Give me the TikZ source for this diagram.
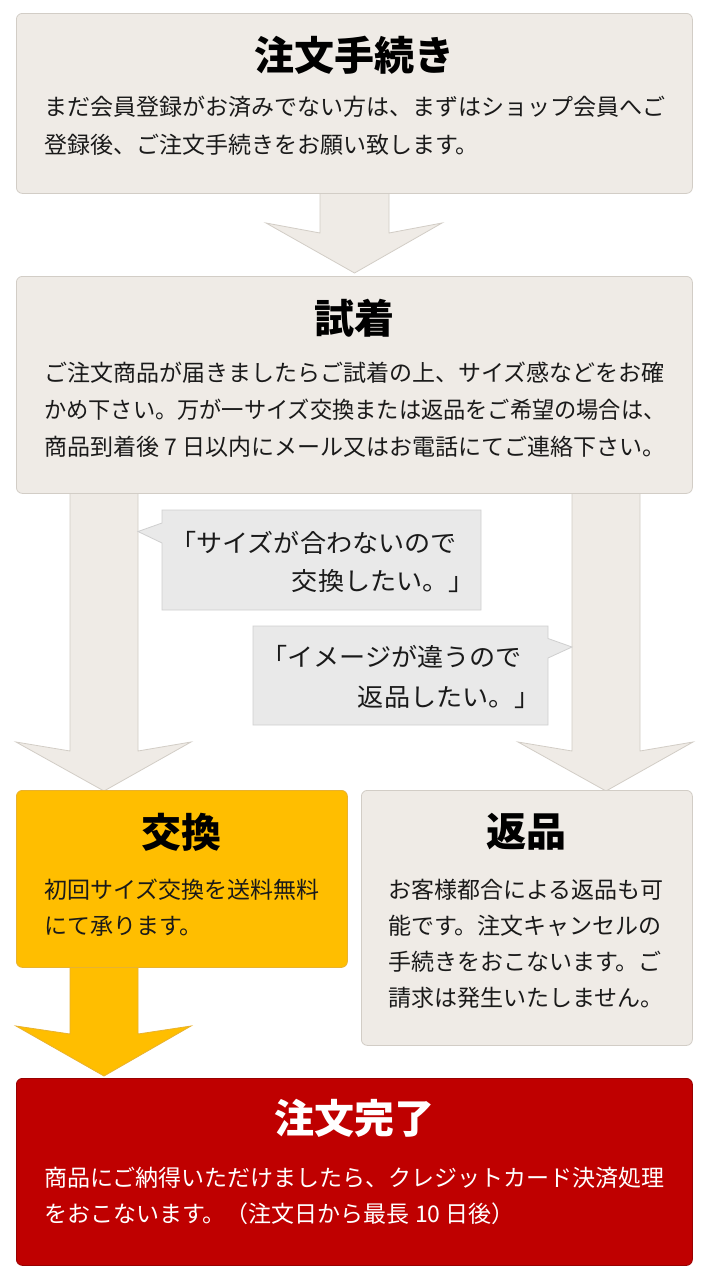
\documentclass[tikz,border=0pt]{standalone}
\usepackage{fontspec}
\setmainfont{Noto Sans CJK JP}
\definecolor{boxfill}{HTML}{EFEBE6}
\definecolor{boxline}{HTML}{D2CDC6}
\definecolor{bubfill}{HTML}{E9E9E9}
\definecolor{bubline}{HTML}{CFCFCF}
\definecolor{yel}{HTML}{FFBE00}
\definecolor{yelline}{HTML}{E8B230}
\definecolor{redc}{HTML}{BF0000}
\definecolor{textc}{HTML}{1A1A1A}
\begin{document}
\begin{tikzpicture}[x=1pt,y=-1pt,
  box/.style={draw=boxline, fill=boxfill, rounded corners=6pt, line width=0.8pt, inner sep=0pt, anchor=north west},
  arr/.style={draw=boxline, fill=boxfill, line width=0.8pt},
  bub/.style={draw=bubline, fill=bubfill, line width=0.8pt},
  ttl/.style={font=\fontsize{40}{44}\selectfont\bfseries, text=black, inner sep=0pt},
  body/.style={font=\fontsize{23}{28}\selectfont, text=textc, inner sep=0pt, anchor=west},
  btxt/.style={font=\fontsize{25}{28}\selectfont, text=textc, inner sep=0pt}]
\fill[white] (0,0) rectangle (710,1280);
\useasboundingbox (0,0) rectangle (710,1280);
% block arrows
\draw[arr] (320,190) -- (320,233) -- (266,223) -- (354.5,273) -- (442,223) -- (389,233) -- (389,190) -- cycle;
\draw[arr] (70,490) -- (70,751) -- (16,742) -- (104,791) -- (191,742) -- (138,751) -- (138,490) -- cycle;
\draw[arr] (572,490) -- (572,751) -- (518,742) -- (606,791) -- (693,742) -- (640,751) -- (640,490) -- cycle;
\draw[draw=yelline, fill=yel, line width=0.8pt] (70,964) -- (70,1034) -- (16,1026) -- (104,1076) -- (191,1026) -- (138,1034) -- (138,964) -- cycle;
% boxes
\node[box, minimum width=676pt, minimum height=180pt] (b1) at (16,13) {};
\node[box, minimum width=676pt, minimum height=217pt] (b2) at (16,276) {};
\node[box, draw=yelline, fill=yel, minimum width=331pt, minimum height=177pt] (b3) at (16,790) {};
\node[box, minimum width=331pt, minimum height=255pt] (b4) at (361,790) {};
\node[box, draw=redc!80!black, fill=redc, minimum width=676pt, minimum height=187pt] (b5) at (16,1078) {};
% bubbles
\draw[bub] (162,510) -- (481,510) -- (481,610) -- (162,610) -- (162,543) -- (138,531.5) -- (162,523) -- cycle;
\draw[bub] (253,626) -- (548,626) -- (548,638.5) -- (572,647) -- (548,658) -- (548,725) -- (253,725) -- cycle;
\node[btxt, anchor=west] (q1a) at (170,543) {\scalebox{1.045}[1]{「サイズが合わないので}};
\node[btxt, anchor=east] (q1b) at (475,581) {\scalebox{1.045}[1]{交換したい。」}};
\node[btxt, anchor=west] (q2a) at (261,657) {\scalebox{1.045}[1]{「イメージが違うので}};
\node[btxt, anchor=east] (q2b) at (541,697) {\scalebox{1.045}[1]{返品したい。」}};
% box 1
\node[ttl] (t1) at (354.5,55) {注文手続き};
\node[body] (l11) at (44,107) {まだ会員登録がお済みでない方は、まずはショップ会員へご};
\node[body] (l12) at (44,145) {登録後、ご注文手続きをお願い致します。};
% box 2
\node[ttl] (t2) at (354.5,318) {試着};
\node[body] (l21) at (44,373) {ご注文商品が届きましたらご試着の上、サイズ感などをお確};
\node[body] (l22) at (44,410) {\scalebox{0.966}[1]{かめ下さい。万が一サイズ交換または返品をご希望の場合は、}};
\node[body] (l23) at (44,447) {商品到着後 7 日以内にメール又はお電話にてご連絡下さい。};
% box 3
\node[ttl] (t3) at (181.5,832) {交換};
\node[body] (l31) at (44,890) {初回サイズ交換を送料無料};
\node[body] (l32) at (44,926) {にて承ります。};
% box 4
\node[ttl] (t4) at (526.5,832) {返品};
\node[body] (l41) at (388,890) {お客様都合による返品も可};
\node[body] (l42) at (388,926) {能です。注文キャンセルの};
\node[body] (l43) at (388,962) {手続きをおこないます。ご};
\node[body] (l44) at (388,998) {請求は発生いたしません。};
% box 5
\node[ttl, text=white] (t5) at (354.5,1118) {注文完了};
\node[body, text=white] (l51) at (44,1178) {商品にご納得いただけましたら、クレジットカード決済処理};
\node[body, text=white] (l52) at (44,1214) {をおこないます。（注文日から最長 10 日後）};
\end{tikzpicture}
\end{document}
